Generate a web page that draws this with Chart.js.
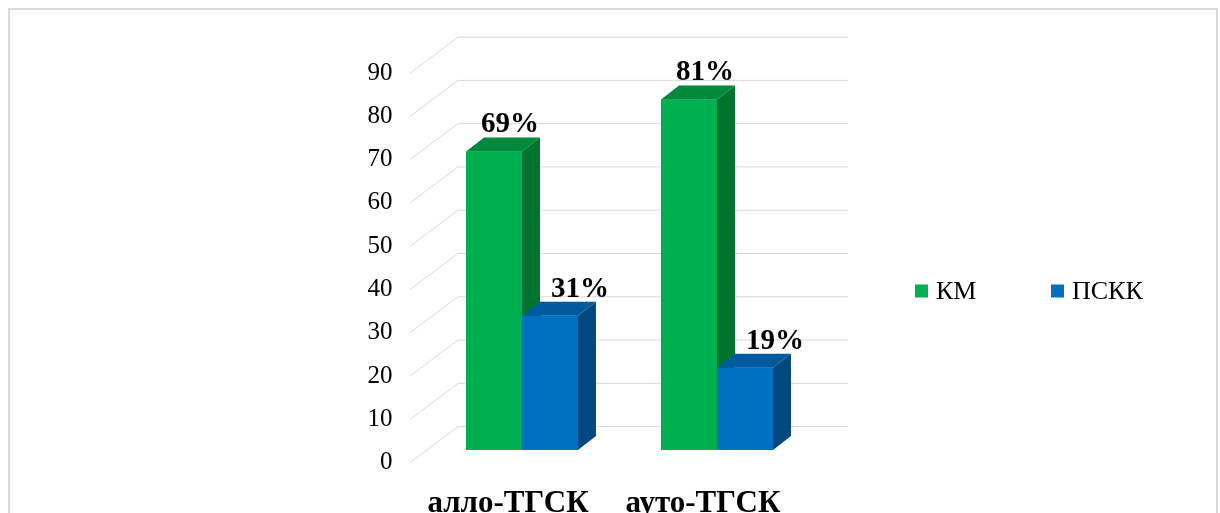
<!DOCTYPE html>
<html>
<head>
<meta charset="utf-8">
<script src="https://cdn.jsdelivr.net/npm/chart.js@4"></script>
<style>
  html, body { margin: 0; padding: 0; background: #fff; overflow: hidden; }
  #wrap { position: relative; width: 1220px; height: 540px; }
</style>
</head>
<body>
<div id="wrap"><canvas id="chart" width="1220" height="540"></canvas></div>
<script>
// данные диаграммы
const categories = ["алло-ТГСК", "ауто-ТГСК"];
const seriesNames = ["КМ", "ПСКК"];
const kmValues = [69, 81];
const pskkValues = [31, 19];
const yMax = 90;
const yStep = 10;

// цвета: лицевая грань, верх, бок
const frontColors = ["#00b050", "#0070c0"];
const topColors = ["#00883d", "#005a9e"];
const sideColors = ["#00732f", "#00487e"];

const DX = 18, DY = 14; // глубина столбика
const FRONT = { x: -14.5, y: 12.6 }; // передняя плоскость сетки
const BACK = { x: 33.5, y: -23.4 };  // задняя стенка

const serif = "'Liberation Serif', 'Times New Roman', serif";

// рамка
const framePlugin = {
  id: "frame",
  beforeDraw(chart) {
    const ctx = chart.ctx;
    ctx.save();
    ctx.strokeStyle = "#d9d9d9";
    ctx.lineWidth = 2;
    ctx.strokeRect(9, 9, 1208, 600);
    ctx.restore();
  }
};

// трёхмерная сетка
const gridPlugin = {
  id: "grid3d",
  beforeDatasetsDraw(chart) {
    const { ctx, chartArea, scales } = chart;
    const y = scales.y;
    ctx.save();
    ctx.strokeStyle = "#d9d9d9";
    ctx.lineWidth = 1;
    y.ticks.forEach((t) => {
      const py = y.getPixelForValue(t.value);
      ctx.beginPath();
      ctx.moveTo(chartArea.left + FRONT.x, py + FRONT.y);
      ctx.lineTo(chartArea.left + BACK.x, py + BACK.y);
      ctx.lineTo(chartArea.right + BACK.x, py + BACK.y);
      ctx.stroke();
    });
    ctx.restore();
  }
};

// объёмные столбики и подписи
const barsPlugin = {
  id: "bars3d",
  afterDatasetsDraw(chart) {
    const ctx = chart.ctx;
    ctx.save();
    chart.data.datasets.forEach((ds, i) => {
      const meta = chart.getDatasetMeta(i);
      meta.data.forEach((el) => {
        const l = el.x - el.width / 2;
        const r = el.x + el.width / 2;
        const top = el.y, base = el.base;
        // бок
        ctx.fillStyle = sideColors[i];
        ctx.beginPath();
        ctx.moveTo(r, top);
        ctx.lineTo(r + DX, top - DY);
        ctx.lineTo(r + DX, base - DY);
        ctx.lineTo(r, base);
        ctx.closePath();
        ctx.fill();
        // верх
        ctx.fillStyle = topColors[i];
        ctx.beginPath();
        ctx.moveTo(l, top);
        ctx.lineTo(l + DX, top - DY);
        ctx.lineTo(r + DX, top - DY);
        ctx.lineTo(r, top);
        ctx.closePath();
        ctx.fill();
        // лицевая грань
        ctx.fillStyle = frontColors[i];
        ctx.fillRect(l, top, r - l, base - top);
      });
    });
    // подписи значений
    const offs = [16, 30];
    ctx.fillStyle = "#000";
    ctx.font = "bold 29px " + serif;
    ctx.textAlign = "center";
    ctx.textBaseline = "alphabetic";
    chart.data.datasets.forEach((ds, i) => {
      const meta = chart.getDatasetMeta(i);
      meta.data.forEach((el, j) => {
        ctx.fillText(ds.data[j] + "%", el.x + offs[i], el.y - 19);
      });
    });
    ctx.restore();
  },
  afterDraw(chart) {
    // легенда справа
    const ctx = chart.ctx;
    ctx.save();
    ctx.font = "26px " + serif;
    ctx.textBaseline = "middle";
    ctx.textAlign = "left";
    let x = 915;
    const cy = 291;
    chart.data.datasets.forEach((ds, i) => {
      ctx.fillStyle = frontColors[i];
      ctx.fillRect(x, cy - 6.5, 13, 13);
      ctx.fillStyle = "#000";
      ctx.fillText(ds.label, x + 21, cy + 1);
      x += 136;
    });
    ctx.restore();
  }
};

new Chart(document.getElementById("chart"), {
  type: "bar",
  data: {
    labels: categories,
    datasets: [
      { label: seriesNames[0], data: kmValues, backgroundColor: frontColors[0] },
      { label: seriesNames[1], data: pskkValues, backgroundColor: frontColors[1] }
    ]
  },
  options: {
    responsive: false,
    animation: false,
    devicePixelRatio: 1,
    layout: { padding: { left: 0, right: 405.5, top: 60.5, bottom: 0 } },
    datasets: { bar: { categoryPercentage: 0.574, barPercentage: 1 } },
    plugins: { legend: { display: false }, tooltip: { enabled: false } },
    scales: {
      x: {
        grid: { display: false },
        border: { display: false },
        ticks: {
          color: "#000",
          font: { family: serif, size: 31, weight: "bold" },
          labelOffset: -14,
          padding: 27
        },
        afterFit(s) { s.height = 90; }
      },
      y: {
        min: 0,
        max: yMax,
        grid: { display: false },
        border: { display: false },
        ticks: {
          stepSize: yStep,
          color: "#000",
          font: { family: serif, size: 25 },
          labelOffset: 12.6,
          padding: 24
        },
        afterFit(s) { s.width = 424.5; }
      }
    }
  },
  plugins: [framePlugin, gridPlugin, barsPlugin]
});
</script>
</body>
</html>
